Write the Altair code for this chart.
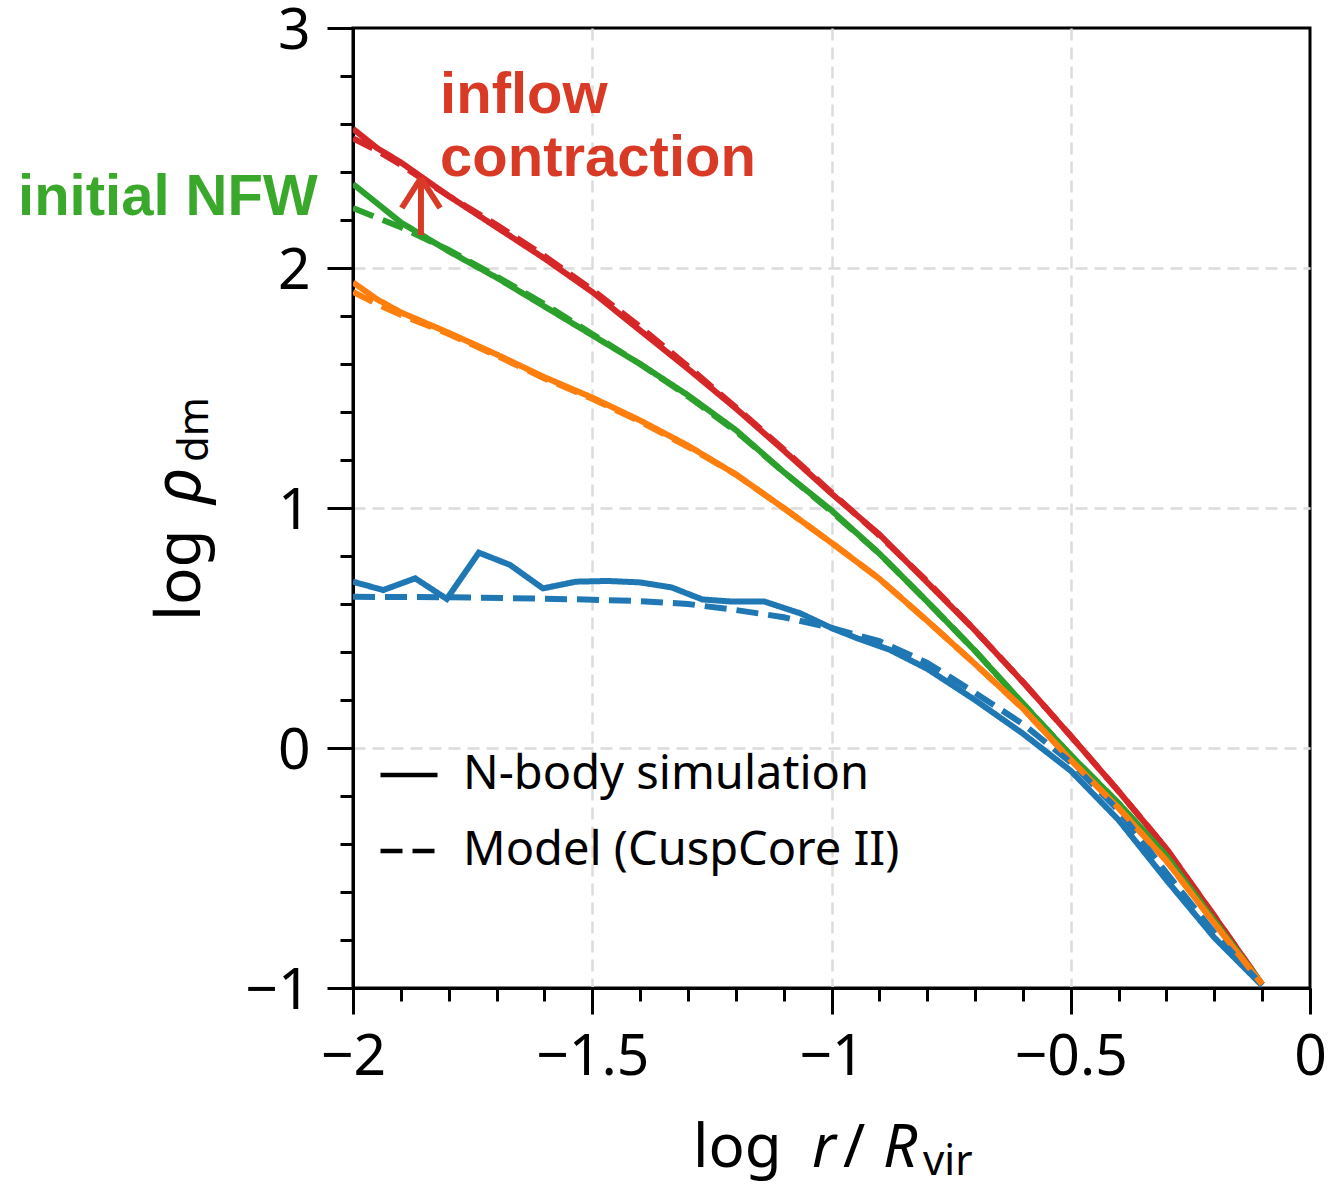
import altair as alt
import pandas as pd

# ---------------- data ----------------
X_GRID = [-2.0, -1.95, -1.9, -1.8, -1.7, -1.6, -1.5, -1.4, -1.3, -1.2, -1.1,
          -1.0, -0.9, -0.8, -0.7, -0.6, -0.5, -0.4, -0.3, -0.2, -0.1]

red_sim = [2.58, 2.50, 2.44, 2.30, 2.17, 2.04, 1.90, 1.74, 1.58, 1.415, 1.24,
           1.06, 0.89, 0.69, 0.49, 0.275, 0.05, -0.18, -0.42, -0.70, -0.985]
red_model = [2.54, 2.49, 2.43, 2.30, 2.18, 2.05, 1.91, 1.755, 1.59, 1.42, 1.245,
             1.065, 0.885, 0.695, 0.49, 0.275, 0.05, -0.18, -0.42, -0.70, -0.985]

green_sim = [2.35, 2.27, 2.19, 2.07, 1.96, 1.84, 1.72, 1.60, 1.47, 1.325, 1.15,
             0.99, 0.81, 0.61, 0.405, 0.185, -0.03, -0.23, -0.45, -0.72, -0.985]
green_model = [2.25, 2.21, 2.17, 2.075, 1.965, 1.85, 1.725, 1.60, 1.465, 1.32, 1.15,
               0.985, 0.81, 0.61, 0.405, 0.185, -0.03, -0.23, -0.45, -0.72, -0.985]

orange_sim = [1.94, 1.87, 1.815, 1.73, 1.64, 1.545, 1.46, 1.365, 1.26, 1.14, 1.00,
              0.855, 0.705, 0.53, 0.35, 0.165, -0.05, -0.25, -0.47, -0.73, -0.985]
orange_model = [1.90, 1.85, 1.805, 1.725, 1.635, 1.54, 1.455, 1.36, 1.255, 1.14, 1.00,
                0.855, 0.705, 0.53, 0.35, 0.165, -0.05, -0.25, -0.47, -0.73, -0.985]

blue_sim_x = [-2.0, -1.937, -1.87, -1.804, -1.737, -1.672, -1.603, -1.534, -1.468,
              -1.40, -1.334, -1.27, -1.207, -1.14, -1.065, -1.0, -0.946, -0.879,
              -0.8, -0.7, -0.6, -0.5, -0.4, -0.3, -0.2, -0.1]
blue_sim = [0.693, 0.658, 0.707, 0.621, 0.814, 0.763, 0.665, 0.693, 0.696,
            0.690, 0.669, 0.619, 0.610, 0.610, 0.561, 0.500, 0.457, 0.410,
            0.33, 0.20, 0.06, -0.095, -0.30, -0.55, -0.79, -0.99]
blue_model_x = [-2.0, -1.8, -1.6, -1.5, -1.4, -1.3, -1.2, -1.1, -1.0, -0.9, -0.8,
                -0.7, -0.6, -0.5, -0.4, -0.3, -0.2, -0.1]
blue_model = [0.63, 0.628, 0.622, 0.618, 0.612, 0.60, 0.575, 0.545, 0.50, 0.445, 0.355,
              0.23, 0.10, -0.06, -0.26, -0.52, -0.77, -0.99]

KINDS = ["N-body simulation", "Model (CuspCore II)"]
COLORS = {"blue": "#1f77b4", "orange": "#ff7f0e", "green": "#2ca02c", "red": "#d62728"}

X_MAJOR = [-2, -1.5, -1, -0.5, 0]
X_GRIDLINES = [-1.5, -1, -0.5]
X_MINOR = [-1.9, -1.8, -1.7, -1.6, -1.4, -1.3, -1.2, -1.1, -0.9, -0.8, -0.7, -0.6,
           -0.4, -0.3, -0.2, -0.1]
Y_MAJOR = [-1, 0, 1, 2, 3]
Y_GRIDLINES = [0, 1, 2]
Y_MINOR = [-0.8, -0.6, -0.4, -0.2, 0.2, 0.4, 0.6, 0.8, 1.2, 1.4, 1.6, 1.8,
           2.2, 2.4, 2.6, 2.8]

ann_text = ["inflow", "contraction", "initial NFW"]
ann_x = [-1.818, -1.818, -2.70]
ann_y = [2.646, 2.383, 2.221]
ann_color = ["#d93a26", "#d93a26", "#3aa82a"]

# arrow segments (shaft + two head strokes), data coordinates
arr_x = [-1.858, -1.858, -1.858]
arr_y = [2.1375, 2.375, 2.375]
arr_x2 = [-1.858, -1.898, -1.818]
arr_y2 = [2.375, 2.25, 2.25]

# ---------------- chart ----------------
W, H = 957, 960
FONT = "Noto Sans"


def frame(xs, ys, kind):
    return pd.DataFrame({"x": xs, "y": ys, "kind": kind, "i": list(range(len(xs)))})


x_scale = alt.Scale(domain=[-2, 0], nice=False, zero=False)
y_scale = alt.Scale(domain=[-1, 3], nice=False, zero=False)
dash_scale = alt.Scale(domain=KINDS, range=[[1, 0], [22, 10]])

legend = alt.Legend(
    title=None, orient="none", legendX=25, legendY=716,
    symbolType="stroke", symbolSize=3249, symbolStrokeWidth=4.5,
    symbolStrokeColor="black", labelFont=FONT, labelFontSize=47,
    labelColor="black", labelOffset=23, labelLimit=0, rowPadding=22, padding=0,
)


def line_layer(xs, ys, kind, color):
    return alt.Chart(frame(xs, ys, kind)).mark_line(
        strokeWidth=6, color=color, clip=True
    ).encode(
        x=alt.X("x:Q", scale=x_scale, axis=None),
        y=alt.Y("y:Q", scale=y_scale, axis=None),
        strokeDash=alt.StrokeDash("kind:N", scale=dash_scale, legend=legend),
        order="i:Q",
    )


axis_base = alt.Chart(frame(X_GRID, red_sim, KINDS[0])).mark_point(opacity=0)

grid_axes = axis_base.encode(
    x=alt.X("x:Q", scale=x_scale, axis=alt.Axis(
        orient="bottom", values=X_GRIDLINES, labels=False, ticks=False,
        domain=False, title=None, grid=True)),
    y=alt.Y("y:Q", scale=y_scale, axis=alt.Axis(
        orient="left", values=Y_GRIDLINES, labels=False, ticks=False,
        domain=False, title=None, grid=True)),
)
major_axes = axis_base.encode(
    x=alt.X("x:Q", scale=x_scale, axis=alt.Axis(
        orient="bottom", values=X_MAJOR, format="~g", title=None, tickSize=26,
        labelPadding=15, grid=False, labelFlush=False)),
    y=alt.Y("y:Q", scale=y_scale, axis=alt.Axis(
        orient="left", values=Y_MAJOR, format="~g", title=None, tickSize=26,
        labelPadding=17, labelOffset=3, grid=False, labelFlush=False)),
)
minor_axes = axis_base.encode(
    x=alt.X("x:Q", scale=x_scale, axis=alt.Axis(
        orient="bottom", values=X_MINOR, labels=False, title=None, tickSize=13,
        grid=False, domain=False)),
    y=alt.Y("y:Q", scale=y_scale, axis=alt.Axis(
        orient="left", values=Y_MINOR, labels=False, title=None, tickSize=13,
        grid=False, domain=False)),
)

lines = [
    line_layer(X_GRID, red_sim, KINDS[0], COLORS["red"]),
    line_layer(X_GRID, red_model, KINDS[1], COLORS["red"]),
    line_layer(X_GRID, green_sim, KINDS[0], COLORS["green"]),
    line_layer(X_GRID, green_model, KINDS[1], COLORS["green"]),
    line_layer(X_GRID, orange_sim, KINDS[0], COLORS["orange"]),
    line_layer(blue_sim_x, blue_sim, KINDS[0], COLORS["blue"]),
    line_layer(blue_model_x, blue_model, KINDS[1], COLORS["blue"]),
    line_layer(X_GRID, orange_model, KINDS[1], COLORS["orange"]),
]

ann_df = pd.DataFrame({"t": ann_text, "x": ann_x, "y": ann_y, "c": ann_color})
annotations = alt.Chart(ann_df).mark_text(
    font="Liberation Sans", fontWeight="bold", fontSize=58, align="left",
    baseline="alphabetic"
).encode(
    x=alt.X("x:Q", scale=x_scale, axis=None),
    y=alt.Y("y:Q", scale=y_scale, axis=None),
    text="t:N",
    color=alt.Color("c:N", scale=None),
)

arr_df = pd.DataFrame({"x": arr_x, "y": arr_y, "x2": arr_x2, "y2": arr_y2})
arrow = alt.Chart(arr_df).mark_rule(color="#d93a26", strokeWidth=6).encode(
    x=alt.X("x:Q", scale=x_scale, axis=None),
    y=alt.Y("y:Q", scale=y_scale, axis=None),
    x2="x2:Q", y2="y2:Q",
)


def label(text, px, py, size, style="normal", angle=0):
    return alt.Chart(pd.DataFrame({"t": [text]})).mark_text(
        font=FONT, fontSize=size, fontStyle=style, align="left",
        baseline="alphabetic", angle=angle, color="black"
    ).encode(text="t:N", x=alt.value(px), y=alt.value(py))


titles = [
    label("log", 340, 1139, 60),
    label("r", 459, 1139, 60, "italic"),
    label("/", 490, 1139, 60),
    label("R", 530, 1139, 60, "italic"),
    label("vir", 570, 1147, 42),
    label("log", -153, 593, 62, angle=270),
    label("ρ", -153, 476, 66, "italic", angle=270),
    label("dm", -145, 434, 42, angle=270),
]

chart = alt.layer(
    grid_axes, major_axes, minor_axes, *lines, annotations, arrow, *titles
).resolve_axis(
    x="independent", y="independent"
).properties(
    width=W, height=H,
    autosize=alt.AutoSizeParams(type="none"),
    padding={"left": 353, "top": 28, "right": 22, "bottom": 199},
).configure_view(
    stroke="black", strokeWidth=3
).configure_axis(
    labelFont=FONT, labelFontSize=57, labelColor="black",
    tickColor="black", tickWidth=3, domainColor="black", domainWidth=3,
    gridColor="#dcdcdc", gridDash=[12, 7], gridWidth=2.5,
)

chart.save("out.html", embed_options={"renderer": "svg", "actions": False})
